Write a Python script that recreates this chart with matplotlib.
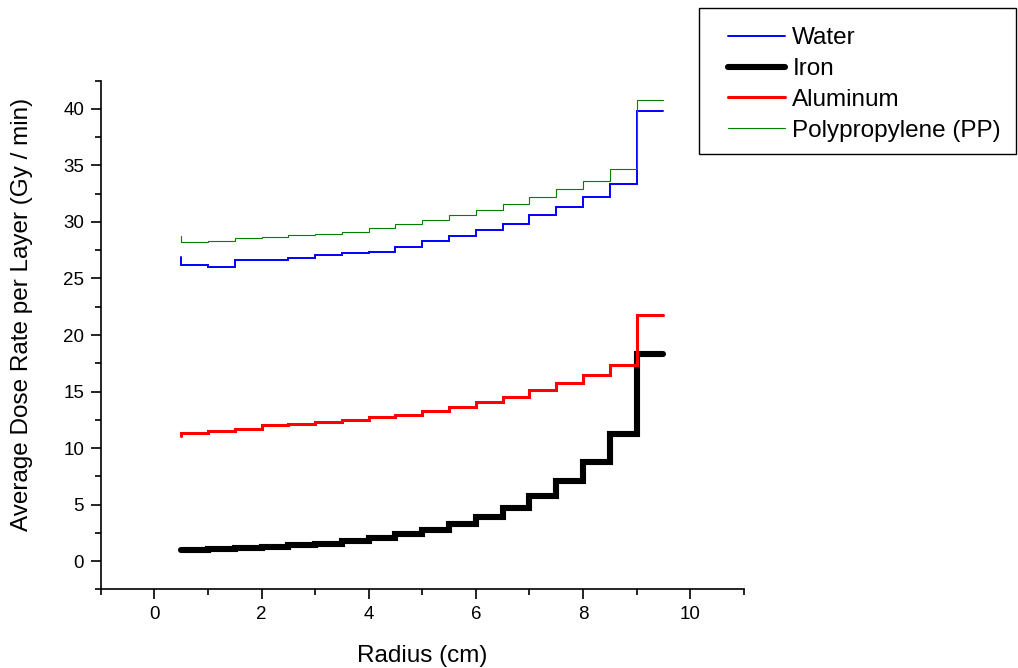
import matplotlib.pyplot as plt
from matplotlib.patches import Rectangle
from matplotlib.ticker import MultipleLocator

plt.rcParams["font.family"] = ["Liberation Sans", "DejaVu Sans"]

# layer outer radius (cm); first point only anchors the start of the step line
RADIUS = [0.5, 1.0, 1.5, 2.0, 2.5, 3.0, 3.5, 4.0, 4.5, 5.0,
          5.5, 6.0, 6.5, 7.0, 7.5, 8.0, 8.5, 9.0, 9.5]

WATER = [26.9, 26.2, 26.0, 26.65, 26.65, 26.8, 27.05, 27.25, 27.35, 27.75,
         28.35, 28.8, 29.3, 29.85, 30.6, 31.3, 32.2, 33.35, 39.85]
IRON = [1.0, 1.0, 1.05, 1.15, 1.25, 1.4, 1.55, 1.8, 2.05, 2.35,
        2.75, 3.3, 3.9, 4.65, 5.75, 7.05, 8.8, 11.2, 18.3]
ALUMINUM = [11.1, 11.35, 11.5, 11.7, 12.0, 12.15, 12.3, 12.5, 12.75, 12.95,
            13.25, 13.65, 14.1, 14.5, 15.1, 15.75, 16.45, 17.35, 21.8]
POLYPROPYLENE = [28.8, 28.2, 28.3, 28.55, 28.65, 28.85, 28.95, 29.15, 29.45, 29.8,
                 30.15, 30.6, 31.1, 31.6, 32.25, 32.9, 33.65, 34.65, 40.8]

SERIES = [
    ("Water", WATER, "#0000ff", 1.4),
    ("Iron", IRON, "#000000", 4.4),
    ("Aluminum", ALUMINUM, "#ff0000", 2.2),
    ("Polypropylene (PP)", POLYPROPYLENE, "#008000", 0.8),
]


def main():
    fig = plt.figure(figsize=(10.18, 6.68), dpi=100)
    ax = fig.add_axes([0.099, 0.1178, 0.6316, 0.7614])

    for label, values, color, lw in SERIES:
        ax.plot(RADIUS, values, drawstyle="steps-pre", color=color,
                linewidth=lw, label=label,
                solid_capstyle="round", solid_joinstyle="miter")

    ax.set_xlim(-1, 11)
    ax.set_ylim(-2.5, 42.5)
    ax.xaxis.set_major_locator(MultipleLocator(2))
    ax.xaxis.set_minor_locator(MultipleLocator(1))
    ax.yaxis.set_major_locator(MultipleLocator(5))
    ax.yaxis.set_minor_locator(MultipleLocator(2.5))

    for side in ("top", "right"):
        ax.spines[side].set_visible(False)
    for side in ("left", "bottom"):
        ax.spines[side].set_linewidth(1.2)

    ax.tick_params(which="major", direction="out", length=7, width=1.2,
                   labelsize=13.5, pad=5)
    ax.tick_params(which="minor", direction="out", length=4, width=1.2)

    ax.set_xlabel("Radius (cm)", fontsize=17.5, labelpad=16)
    ax.set_ylabel("Average Dose Rate per Layer (Gy / min)", fontsize=17.5)
    ax.yaxis.set_label_coords(-0.105, 0.54)

    # Origin-style legend box sits outside the axes, with a wider left margin
    fig.add_artist(Rectangle((0.6866, 0.7695), 0.3114, 0.2186,
                             transform=fig.transFigure, fill=False,
                             edgecolor="black", linewidth=1.0))
    fig.legend(loc="upper left", bbox_to_anchor=(0.715, 0.959),
               fontsize=17.5, frameon=False,
               handlelength=2.35, handletextpad=0.3, labelspacing=0.36,
               borderpad=0, borderaxespad=0)

    fig.savefig("out.png", dpi=100)


if __name__ == "__main__":
    main()
